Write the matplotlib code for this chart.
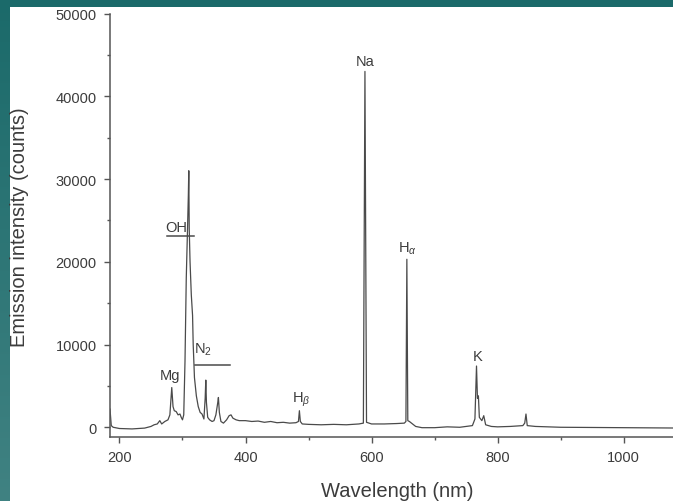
import numpy as np
import matplotlib
matplotlib.use('Agg')
import matplotlib.pyplot as plt
from matplotlib.patches import Rectangle
from matplotlib.ticker import MultipleLocator

plt.rcParams['font.family'] = ['Liberation Sans', 'DejaVu Sans']
plt.rcParams['mathtext.fontset'] = 'custom'
plt.rcParams['mathtext.rm'] = 'Liberation Sans'
plt.rcParams['mathtext.it'] = 'Liberation Sans:italic'

# spectrum (nm, counts)
wavelength = [185, 187, 190, 200, 220, 240, 250, 255, 260, 264, 267, 272, 277, 280,
              283, 285, 287, 290, 293, 296, 298, 300, 302, 304, 306, 308, 309.3, 310,
              310.7, 312, 314, 316, 317, 319, 322, 325, 328, 331, 334, 336, 337, 338,
              340, 343, 347, 350, 353, 356, 357, 358.5, 361, 365, 370, 374, 377, 380,
              385, 390, 400, 410, 420, 430, 440, 450, 460, 470, 480, 484, 485.5, 487,
              490, 500, 520, 540, 560, 580, 587, 589.5, 592, 600, 620, 640, 652, 654.5,
              656, 657.5, 660, 665, 670, 680, 700, 720, 740, 750, 760, 764, 766.5, 768,
              769.5, 771, 775, 778, 781, 790, 800, 820, 840, 843, 845, 847, 860, 900,
              1000, 1100]
intensity = [2200, 200, 0, -150, -200, -100, 100, 300, 400, 800, 400, 700, 900, 1500,
             4800, 2500, 2000, 1900, 1500, 1600, 1200, 900, 1500, 8000, 18000, 24000, 28000, 31000,
             24000, 20000, 16000, 13500, 10000, 6000, 3800, 2500, 1800, 1600, 1000, 3500, 5700, 3000,
             1200, 900, 700, 800, 1500, 3000, 3600, 1800, 700, 500, 900, 1400, 1500, 1100,
             900, 800, 800, 700, 750, 600, 700, 550, 600, 500, 550, 700, 2000, 700,
             400, 350, 300, 350, 300, 400, 500, 43000, 600, 400, 400, 450, 500, 700,
             20300, 800, 700, 400, 100, -50, -50, 50, 0, 100, 200, 1000, 7400, 3500,
             3800, 1200, 800, 1400, 300, 100, 50, 100, 200, 500, 1600, 200, 100, 0,
             -50, -100]

labels = ['Na', 'OH', r'N$_\mathregular{2}$', 'Mg', r'H$_\beta$', r'H$_\alpha$', 'K']
label_x = [589.7, 290, 333, 280, 488, 657, 769]
label_y = [44300, 24200, 9500, 6300, 3400, 21700, 8650]

# band bars under OH and N2
bar_x0 = [275, 320]
bar_x1 = [319, 376]
bar_y = [23100, 7530]

W, H = 673, 502
fig = plt.figure(figsize=(W / 100, H / 100), dpi=100, facecolor='white')

# teal frame like the slide background
bg = fig.add_axes([0, 0, 1, 1], zorder=-10)
bg.axis('off')
bg.set_xlim(0, W)
bg.set_ylim(H, 0)
top_c = np.array([0x1b, 0x6a, 0x6a]) / 255
bot_c = np.array([0x40, 0x82, 0x82]) / 255
t = np.linspace(0, 1, 256)[:, None, None]
grad = top_c * (1 - t) + bot_c * t
bg.imshow(np.repeat(grad, 2, axis=1), extent=(0, 10, H, 0), aspect='auto')
bg.add_patch(Rectangle((0, 0), W, 8, color=top_c, lw=0))

ax = fig.add_axes([110 / W, (H - 437.7) / H, 576.7 / W, 423.2 / H])
ax.set_facecolor('none')
grey = '#3c3c3c'
ax.plot(wavelength, intensity, color='#4a4a4a', lw=0.9)

for s, x, y in zip(labels, label_x, label_y):
    ax.text(x, y, s, ha='center', va='center', fontsize=10.5, color=grey)
for x0, x1, y in zip(bar_x0, bar_x1, bar_y):
    ax.plot([x0, x1], [y, y], color='#4a4a4a', lw=1.1)

ax.set_xlim(185, 1100)
ax.set_ylim(-1140, 50000)
ax.xaxis.set_major_locator(MultipleLocator(200))
ax.xaxis.set_minor_locator(MultipleLocator(100))
ax.yaxis.set_major_locator(MultipleLocator(10000))
ax.yaxis.set_minor_locator(MultipleLocator(5000))
ax.tick_params(which='major', length=4.5, width=1, colors='#555555', labelcolor=grey,
               labelsize=10.5, pad=5)
ax.tick_params(which='minor', length=2.5, width=1, colors='#555555')
for side in ['top', 'right']:
    ax.spines[side].set_visible(False)
for side in ['left', 'bottom']:
    ax.spines[side].set_color('#555555')
    ax.spines[side].set_linewidth(1.1)

fig.text(397 / W, 1 - 492 / H, 'Wavelength (nm)', ha='center', va='center',
         fontsize=14.5, color=grey)
fig.text(20 / W, 1 - 227 / H, 'Emission intensity (counts)', ha='center', va='center',
         rotation=90, fontsize=14.5, color=grey)

fig.savefig('out.png', dpi=100, facecolor='white')
